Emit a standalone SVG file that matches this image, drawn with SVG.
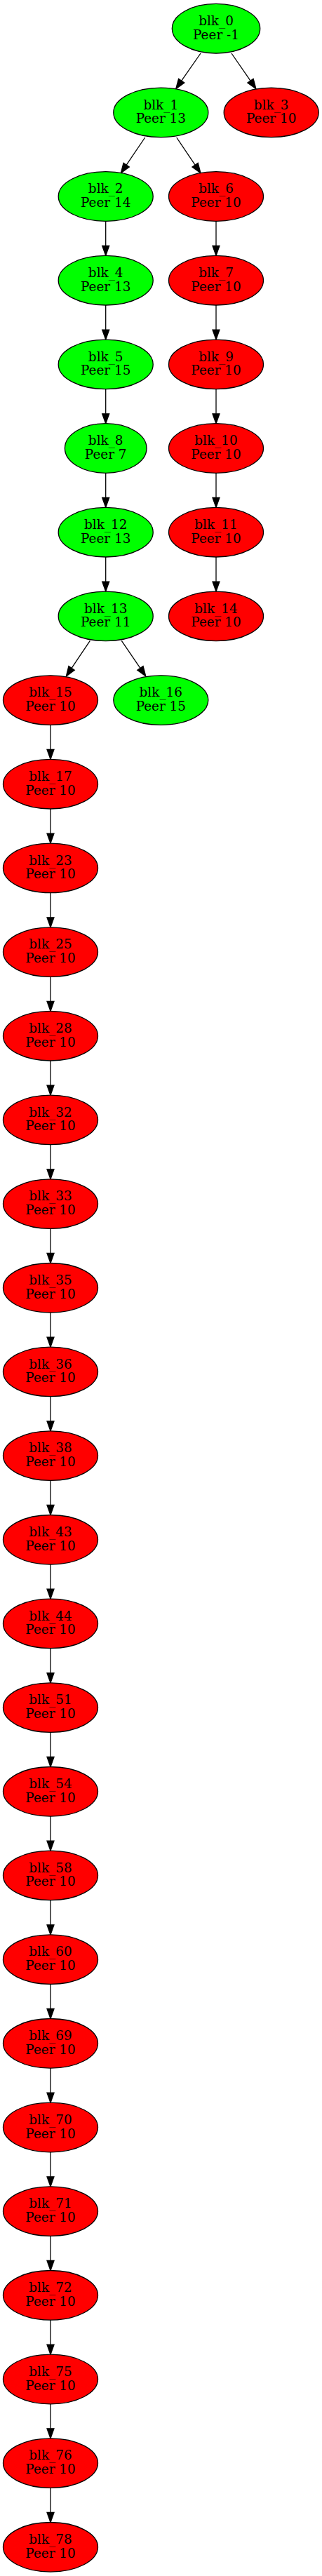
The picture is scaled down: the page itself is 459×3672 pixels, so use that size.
<svg xmlns="http://www.w3.org/2000/svg" width="459" height="3672" viewBox="0 0 459 3672">
<style>
.n ellipse{stroke:#000;stroke-width:1.3}
.g ellipse{fill:#00ff00}
.r ellipse{fill:#ff0000}
.n text{font-family:"DejaVu Serif","Liberation Serif",serif;font-size:18.4px;text-anchor:middle;fill:#000}
.e path{fill:none;stroke:#000;stroke-width:1.3}
</style>
<defs>
<marker id="ah" markerUnits="userSpaceOnUse" viewBox="0 -6 16 12" markerWidth="16" markerHeight="12" refX="0" refY="0" orient="auto" overflow="visible">
<path d="M0,-5 L14,0 L0,5 Z" fill="#000" stroke="#000" stroke-width="1.3"/>
</marker>
</defs>
<rect width="459" height="3672" fill="#fff"/>
<g id="edges" class="e" marker-end="url(#ah)">
<path d="M286,76 L258.7,115.2" marker-end="url(#ah)"/>
<path d="M330,76 L357,115.2" marker-end="url(#ah)"/>
<path d="M206.7,196 L180.2,235.1" marker-end="url(#ah)"/>
<path d="M251.7,196 L278.1,235.1" marker-end="url(#ah)"/>
<path d="M128.3,913.3 L102.1,952.4" marker-end="url(#ah)"/>
<path d="M173.3,913.3 L199.9,952.4" marker-end="url(#ah)"/>
<path d="M150.7,315.3 V350.4" marker-end="url(#ah)"/>
<path d="M150.7,435 V470.1" marker-end="url(#ah)"/>
<path d="M150.7,554.7 V589.8" marker-end="url(#ah)"/>
<path d="M150.7,674.4 V709.4" marker-end="url(#ah)"/>
<path d="M150.7,794 V829.1" marker-end="url(#ah)"/>
<path d="M308,315.3 V350.4" marker-end="url(#ah)"/>
<path d="M308,435 V470.1" marker-end="url(#ah)"/>
<path d="M308,554.7 V589.8" marker-end="url(#ah)"/>
<path d="M308,674.4 V709.4" marker-end="url(#ah)"/>
<path d="M308,794 V829.1" marker-end="url(#ah)"/>
<path d="M72,1033.4 V1068.4" marker-end="url(#ah)"/>
<path d="M72,1153 V1188.1" marker-end="url(#ah)"/>
<path d="M72,1272.7 V1307.8" marker-end="url(#ah)"/>
<path d="M72,1392.4 V1427.4" marker-end="url(#ah)"/>
<path d="M72,1512 V1547.1" marker-end="url(#ah)"/>
<path d="M72,1631.7 V1666.8" marker-end="url(#ah)"/>
<path d="M72,1751.4 V1786.5" marker-end="url(#ah)"/>
<path d="M72,1871.1 V1906.1" marker-end="url(#ah)"/>
<path d="M72,1990.7 V2025.8" marker-end="url(#ah)"/>
<path d="M72,2110.4 V2145.5" marker-end="url(#ah)"/>
<path d="M72,2230.1 V2265.1" marker-end="url(#ah)"/>
<path d="M72,2349.7 V2384.8" marker-end="url(#ah)"/>
<path d="M72,2469.4 V2504.5" marker-end="url(#ah)"/>
<path d="M72,2589.1 V2624.1" marker-end="url(#ah)"/>
<path d="M72,2708.7 V2743.8" marker-end="url(#ah)"/>
<path d="M72,2828.4 V2863.5" marker-end="url(#ah)"/>
<path d="M72,2948.1 V2983.2" marker-end="url(#ah)"/>
<path d="M72,3067.8 V3102.8" marker-end="url(#ah)"/>
<path d="M72,3187.4 V3222.5" marker-end="url(#ah)"/>
<path d="M72,3307.1 V3342.2" marker-end="url(#ah)"/>
<path d="M72,3426.8 V3461.8" marker-end="url(#ah)"/>
<path d="M72,3546.4 V3581.5" marker-end="url(#ah)"/>
</g>
<g id="blk_0" class="n g" transform="translate(308,40.7)"><ellipse rx="62.7" ry="35.3"/><text y="-4.8">blk_0</text><text y="15">Peer -1</text></g>
<g id="blk_1" class="n g" transform="translate(229.3,160.4)"><ellipse rx="67.5" ry="35.3"/><text y="-4.8">blk_1</text><text y="15">Peer 13</text></g>
<g id="blk_3" class="n r" transform="translate(386.7,160.4)"><ellipse rx="67.5" ry="35.3"/><text y="-4.8">blk_3</text><text y="15">Peer 10</text></g>
<g id="blk_2" class="n g" transform="translate(150.7,280)"><ellipse rx="67.5" ry="35.3"/><text y="-4.8">blk_2</text><text y="15">Peer 14</text></g>
<g id="blk_6" class="n r" transform="translate(308,280)"><ellipse rx="67.5" ry="35.3"/><text y="-4.8">blk_6</text><text y="15">Peer 10</text></g>
<g id="blk_4" class="n g" transform="translate(150.7,399.7)"><ellipse rx="67.5" ry="35.3"/><text y="-4.8">blk_4</text><text y="15">Peer 13</text></g>
<g id="blk_7" class="n r" transform="translate(308,399.7)"><ellipse rx="67.5" ry="35.3"/><text y="-4.8">blk_7</text><text y="15">Peer 10</text></g>
<g id="blk_5" class="n g" transform="translate(150.7,519.4)"><ellipse rx="67.5" ry="35.3"/><text y="-4.8">blk_5</text><text y="15">Peer 15</text></g>
<g id="blk_9" class="n r" transform="translate(308,519.4)"><ellipse rx="67.5" ry="35.3"/><text y="-4.8">blk_9</text><text y="15">Peer 10</text></g>
<g id="blk_8" class="n g" transform="translate(150.7,639)"><ellipse rx="58.3" ry="35.3"/><text y="-4.8">blk_8</text><text y="15">Peer 7</text></g>
<g id="blk_10" class="n r" transform="translate(308,639)"><ellipse rx="67.5" ry="35.3"/><text y="-4.8">blk_10</text><text y="15">Peer 10</text></g>
<g id="blk_12" class="n g" transform="translate(150.7,758.7)"><ellipse rx="67.5" ry="35.3"/><text y="-4.8">blk_12</text><text y="15">Peer 13</text></g>
<g id="blk_11" class="n r" transform="translate(308,758.7)"><ellipse rx="67.5" ry="35.3"/><text y="-4.8">blk_11</text><text y="15">Peer 10</text></g>
<g id="blk_13" class="n g" transform="translate(150.7,878.4)"><ellipse rx="67.5" ry="35.3"/><text y="-4.8">blk_13</text><text y="15">Peer 11</text></g>
<g id="blk_14" class="n r" transform="translate(308,878.4)"><ellipse rx="67.5" ry="35.3"/><text y="-4.8">blk_14</text><text y="15">Peer 10</text></g>
<g id="blk_15" class="n r" transform="translate(72,998.1)"><ellipse rx="67.5" ry="35.3"/><text y="-4.8">blk_15</text><text y="15">Peer 10</text></g>
<g id="blk_16" class="n g" transform="translate(229.3,998.1)"><ellipse rx="67.5" ry="35.3"/><text y="-4.8">blk_16</text><text y="15">Peer 15</text></g>
<g id="blk_17" class="n r" transform="translate(72,1117.7)"><ellipse rx="67.5" ry="35.3"/><text y="-4.8">blk_17</text><text y="15">Peer 10</text></g>
<g id="blk_23" class="n r" transform="translate(72,1237.4)"><ellipse rx="67.5" ry="35.3"/><text y="-4.8">blk_23</text><text y="15">Peer 10</text></g>
<g id="blk_25" class="n r" transform="translate(72,1357.1)"><ellipse rx="67.5" ry="35.3"/><text y="-4.8">blk_25</text><text y="15">Peer 10</text></g>
<g id="blk_28" class="n r" transform="translate(72,1476.7)"><ellipse rx="67.5" ry="35.3"/><text y="-4.8">blk_28</text><text y="15">Peer 10</text></g>
<g id="blk_32" class="n r" transform="translate(72,1596.4)"><ellipse rx="67.5" ry="35.3"/><text y="-4.8">blk_32</text><text y="15">Peer 10</text></g>
<g id="blk_33" class="n r" transform="translate(72,1716.1)"><ellipse rx="67.5" ry="35.3"/><text y="-4.8">blk_33</text><text y="15">Peer 10</text></g>
<g id="blk_35" class="n r" transform="translate(72,1835.8)"><ellipse rx="67.5" ry="35.3"/><text y="-4.8">blk_35</text><text y="15">Peer 10</text></g>
<g id="blk_36" class="n r" transform="translate(72,1955.4)"><ellipse rx="67.5" ry="35.3"/><text y="-4.8">blk_36</text><text y="15">Peer 10</text></g>
<g id="blk_38" class="n r" transform="translate(72,2075.1)"><ellipse rx="67.5" ry="35.3"/><text y="-4.8">blk_38</text><text y="15">Peer 10</text></g>
<g id="blk_43" class="n r" transform="translate(72,2194.8)"><ellipse rx="67.5" ry="35.3"/><text y="-4.8">blk_43</text><text y="15">Peer 10</text></g>
<g id="blk_44" class="n r" transform="translate(72,2314.4)"><ellipse rx="67.5" ry="35.3"/><text y="-4.8">blk_44</text><text y="15">Peer 10</text></g>
<g id="blk_51" class="n r" transform="translate(72,2434.1)"><ellipse rx="67.5" ry="35.3"/><text y="-4.8">blk_51</text><text y="15">Peer 10</text></g>
<g id="blk_54" class="n r" transform="translate(72,2553.8)"><ellipse rx="67.5" ry="35.3"/><text y="-4.8">blk_54</text><text y="15">Peer 10</text></g>
<g id="blk_58" class="n r" transform="translate(72,2673.4)"><ellipse rx="67.5" ry="35.3"/><text y="-4.8">blk_58</text><text y="15">Peer 10</text></g>
<g id="blk_60" class="n r" transform="translate(72,2793.1)"><ellipse rx="67.5" ry="35.3"/><text y="-4.8">blk_60</text><text y="15">Peer 10</text></g>
<g id="blk_69" class="n r" transform="translate(72,2912.8)"><ellipse rx="67.5" ry="35.3"/><text y="-4.8">blk_69</text><text y="15">Peer 10</text></g>
<g id="blk_70" class="n r" transform="translate(72,3032.5)"><ellipse rx="67.5" ry="35.3"/><text y="-4.8">blk_70</text><text y="15">Peer 10</text></g>
<g id="blk_71" class="n r" transform="translate(72,3152.1)"><ellipse rx="67.5" ry="35.3"/><text y="-4.8">blk_71</text><text y="15">Peer 10</text></g>
<g id="blk_72" class="n r" transform="translate(72,3271.8)"><ellipse rx="67.5" ry="35.3"/><text y="-4.8">blk_72</text><text y="15">Peer 10</text></g>
<g id="blk_75" class="n r" transform="translate(72,3391.5)"><ellipse rx="67.5" ry="35.3"/><text y="-4.8">blk_75</text><text y="15">Peer 10</text></g>
<g id="blk_76" class="n r" transform="translate(72,3511.1)"><ellipse rx="67.5" ry="35.3"/><text y="-4.8">blk_76</text><text y="15">Peer 10</text></g>
<g id="blk_78" class="n r" transform="translate(72,3630.8)"><ellipse rx="67.5" ry="35.3"/><text y="-4.8">blk_78</text><text y="15">Peer 10</text></g>
</svg>
